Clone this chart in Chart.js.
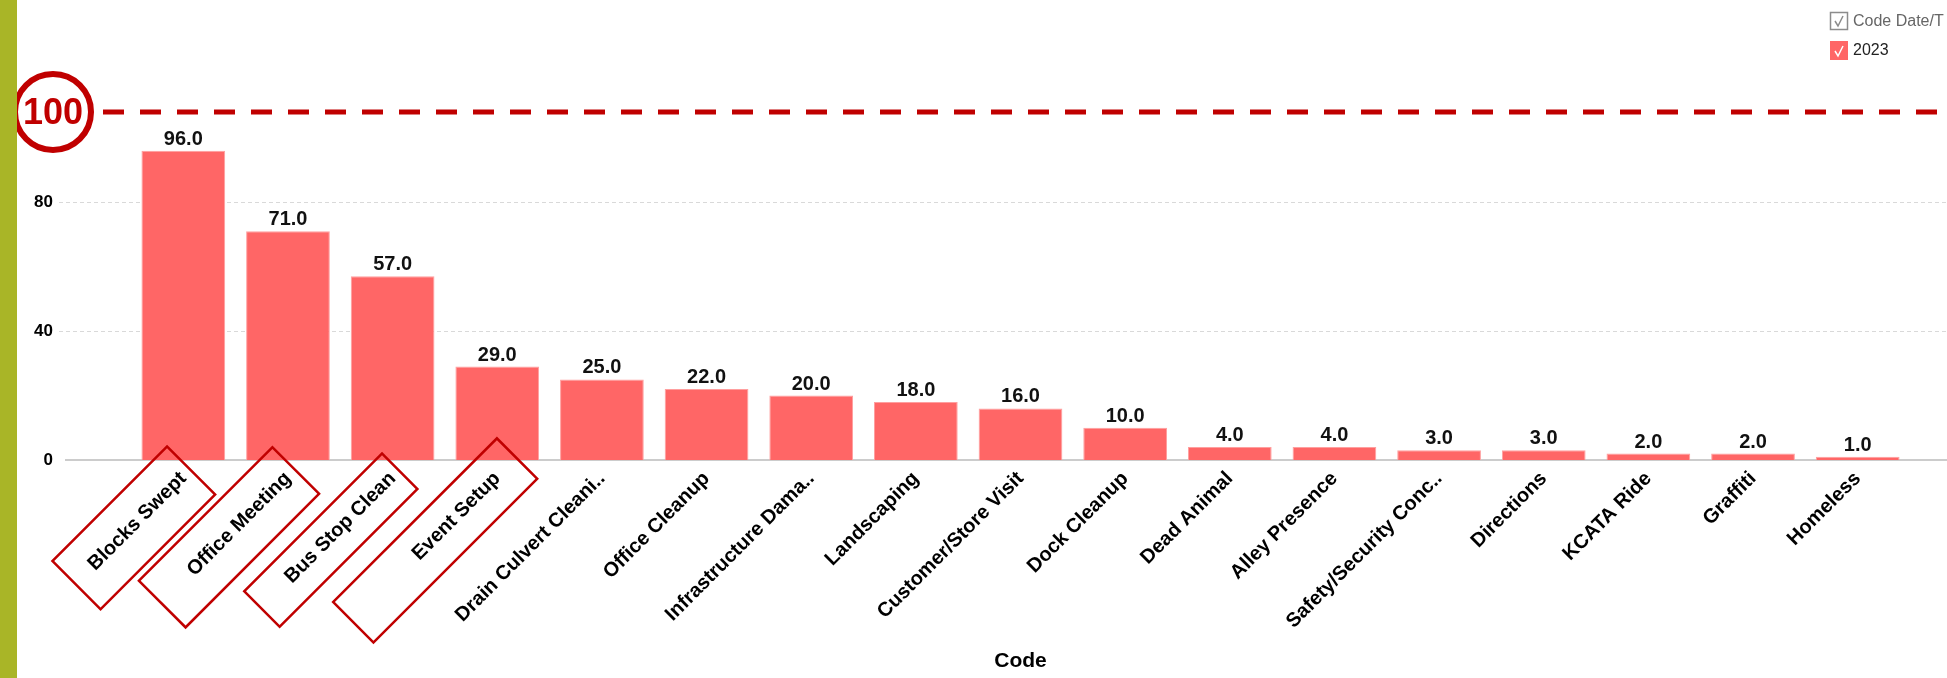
<!DOCTYPE html>
<html>
<head>
<meta charset="utf-8">
<title>Code counts 2023</title>
<script src="https://cdn.jsdelivr.net/npm/chart.js@4.4.1/dist/chart.umd.min.js"></script>
<style>
  html, body { margin: 0; padding: 0; background: #fff; overflow: hidden; }
  #wrap { position: relative; width: 1947px; height: 678px; }
</style>
</head>
<body>
<div id="wrap"><canvas id="codeChart"></canvas></div>
<script>
// counts per code, 2023
const codes = ['Blocks Swept', 'Office Meeting', 'Bus Stop Clean', 'Event Setup', 'Drain Culvert Cleani..',
    'Office Cleanup', 'Infrastructure Dama..', 'Landscaping', 'Customer/Store Visit', 'Dock Cleanup',
    'Dead Animal', 'Alley Presence', 'Safety/Security Conc..', 'Directions', 'KCATA Ride', 'Graffiti', 'Homeless'];
const counts2023 = [96, 71, 57, 29, 25, 22, 20, 18, 16, 10, 4, 4, 3, 3, 2, 2, 1];
const yTicks = [0, 40, 80];
const yAxisMax = 108;
const seriesName = '2023';
const legendTitle = 'Code Date/T';
const xTitle = 'Code';
const targetText = '100';
const circledCodes = ['Blocks Swept', 'Office Meeting', 'Bus Stop Clean', 'Event Setup'];

const FONT = '"Liberation Sans", Arial, sans-serif';
const RED = '#c00000';
const BAR = '#ff6666';

// hand drawn boxes round the first labels: extra length before / after the text and box height
const boxStyle = [
    { before: 29, after: 3, h: 68 },
    { before: 48, after: 3, h: 66 },
    { before: 45, after: 2, h: 50 },
    { before: 96, after: 20, h: 57 }
];

const gridPlugin = {
    id: 'gridLines',
    beforeDatasetsDraw(chart) {
        const ctx = chart.ctx;
        const y = chart.scales.y;
        ctx.save();
        ctx.strokeStyle = '#d9d9d9';
        ctx.lineWidth = 1;
        ctx.setLineDash([4, 3]);
        yTicks.forEach(v => {
            if (v === 0) return;
            const py = Math.round(y.getPixelForValue(v)) + 0.5;
            ctx.beginPath();
            ctx.moveTo(59, py);
            ctx.lineTo(chart.width, py);
            ctx.stroke();
        });
        ctx.setLineDash([]);
        ctx.strokeStyle = '#cccccc';
        ctx.lineWidth = 2;
        const p0 = y.getPixelForValue(0);
        ctx.beginPath();
        ctx.moveTo(65, p0);
        ctx.lineTo(chart.width, p0);
        ctx.stroke();
        ctx.restore();
    }
};

const valuePlugin = {
    id: 'valueLabels',
    afterDatasetsDraw(chart) {
        const ctx = chart.ctx;
        const meta = chart.getDatasetMeta(0);
        ctx.save();
        ctx.font = 'bold 20px ' + FONT;
        ctx.fillStyle = '#111';
        ctx.textAlign = 'center';
        ctx.textBaseline = 'alphabetic';
        meta.data.forEach((bar, i) => {
            ctx.fillText(counts2023[i].toFixed(1), bar.x, bar.y - 6);
        });
        ctx.restore();
    }
};

function drawCheck(ctx, x, y, color) {
    ctx.strokeStyle = color;
    ctx.lineWidth = 1.5;
    ctx.beginPath();
    ctx.moveTo(x + 5, y + 9);
    ctx.lineTo(x + 8, y + 14);
    ctx.lineTo(x + 13, y + 4);
    ctx.stroke();
}

const notesPlugin = {
    id: 'notes',
    afterDraw(chart) {
        const ctx = chart.ctx;
        const area = chart.chartArea;
        const xs = chart.scales.x;
        ctx.save();

        // target line along the top of the plot
        const ty = area.top;
        ctx.strokeStyle = RED;
        ctx.lineWidth = 5;
        ctx.setLineDash([21, 16]);
        ctx.beginPath();
        ctx.moveTo(103, ty);
        ctx.lineTo(chart.width, ty);
        ctx.stroke();
        ctx.setLineDash([]);

        // circled target value
        const cx = area.left - 78;
        ctx.lineWidth = 6;
        ctx.beginPath();
        ctx.arc(cx, ty, 38, 0, Math.PI * 2);
        ctx.stroke();
        ctx.fillStyle = RED;
        ctx.font = 'bold 36px ' + FONT;
        ctx.textAlign = 'center';
        ctx.textBaseline = 'middle';
        ctx.fillText(targetText, cx, ty + 2);

        // boxes round the top four codes
        ctx.font = 'bold 20px ' + FONT;
        ctx.strokeStyle = RED;
        ctx.lineWidth = 2.5;
        const pad = xs.options.ticks.padding;
        const mid = 12 - 4;
        circledCodes.forEach((code, k) => {
            const i = codes.indexOf(code);
            const s = boxStyle[k];
            const w = ctx.measureText(code).width;
            ctx.save();
            ctx.translate(xs.getPixelForTick(i), xs.top + pad);
            ctx.rotate(-Math.PI / 4);
            ctx.strokeRect(-w - s.before, mid - s.h / 2, w + s.before + s.after, s.h);
            ctx.restore();
        });

        // legend, top right
        const lx = 1830;
        ctx.strokeStyle = '#8c8c8c';
        ctx.lineWidth = 1.5;
        ctx.strokeRect(lx + 0.5, 12.5, 17, 17);
        drawCheck(ctx, lx, 12, '#8c8c8c');
        ctx.fillStyle = BAR;
        ctx.fillRect(lx, 41, 18, 19);
        drawCheck(ctx, lx, 42, '#ffffff');
        ctx.font = '16px ' + FONT;
        ctx.textAlign = 'left';
        ctx.textBaseline = 'middle';
        ctx.fillStyle = '#666666';
        ctx.fillText(legendTitle, lx + 23, 22);
        ctx.fillStyle = '#222222';
        ctx.fillText(seriesName, lx + 23, 51);

        // page side strip
        ctx.fillStyle = '#a9b527';
        ctx.fillRect(0, 0, 17, chart.height);
        ctx.restore();
    }
};

const ctx = document.getElementById('codeChart').getContext('2d');
new Chart(ctx, {
    type: 'bar',
    data: {
        labels: codes,
        datasets: [{
            label: seriesName,
            data: counts2023,
            backgroundColor: BAR,
            borderColor: '#ff9f9f',
            borderWidth: 1,
            categoryPercentage: 0.8,
            barPercentage: 1
        }]
    },
    options: {
        responsive: true,
        maintainAspectRatio: false,
        animation: false,
        layout: { padding: { top: 112, right: 37, left: 0, bottom: 0 } },
        plugins: {
            legend: { display: false },
            tooltip: { enabled: false }
        },
        scales: {
            x: {
                grid: { display: false, drawTicks: false },
                border: { display: false },
                ticks: {
                    autoSkip: false,
                    minRotation: 45,
                    maxRotation: 45,
                    padding: 7,
                    color: '#000',
                    font: { family: FONT, size: 20, weight: 'bold' }
                },
                title: {
                    display: true,
                    text: xTitle,
                    color: '#000',
                    font: { family: FONT, size: 21, weight: 'bold' },
                    padding: { top: 0, bottom: 4 }
                },
                afterFit: s => { s.height = 218; }
            },
            y: {
                min: 0,
                max: yAxisMax,
                grid: { display: false, drawTicks: false },
                border: { display: false },
                afterBuildTicks: s => { s.ticks = yTicks.map(v => ({ value: v })); },
                ticks: {
                    padding: 78,
                    color: '#000',
                    font: { family: FONT, size: 17, weight: 'bold' }
                },
                afterFit: s => { s.width = 131; }
            }
        }
    },
    plugins: [gridPlugin, valuePlugin, notesPlugin]
});
</script>
</body>
</html>
